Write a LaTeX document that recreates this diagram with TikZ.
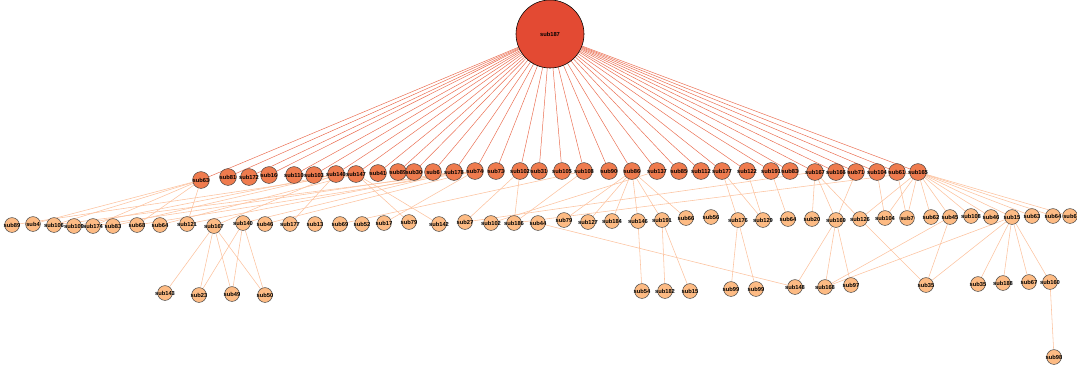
\documentclass[tikz,border=0pt]{standalone}
\usepackage{fontspec}
\setsansfont{Liberation Sans}
\usepackage{xcolor}
\usepackage{tikz}
\usetikzlibrary{backgrounds}

\definecolor{rootred}{HTML}{E34A33}
\definecolor{midorange}{HTML}{EF7B4E}
\definecolor{leaforange}{HTML}{FDBB84}
\definecolor{rootline}{HTML}{EA6E52}
\definecolor{leafline}{HTML}{FCC3A0}

% label that does not widen its circle
\newcommand{\vtxt}[1]{\makebox[0pt]{#1}}

\begin{document}
\begin{tikzpicture}[x=0.025cm, y=-0.025cm,
    font=\sffamily\bfseries\fontsize{4.1}{5}\selectfont,
    vroot/.style={circle, draw=black, line width=0.4pt, fill=rootred, minimum size=1.7cm, inner sep=0pt},
    vmid/.style={circle, draw=black!75, line width=0.35pt, fill=midorange, minimum size=0.42cm, inner sep=0pt},
    vleaf/.style={circle, draw=black!75, line width=0.35pt, fill=leaforange, minimum size=0.37cm, inner sep=0pt},
    rootedge/.style={rootline, line width=0.35pt},
    leafedge/.style={leafline, line width=0.4pt}]
  \useasboundingbox (0,0) rectangle (1077,371);

  \node[vroot] (root) at (550,34) {\vtxt{sub187}};

  % first ring
  \foreach \n/\x/\y/\t in {a1/201/180/sub63, a2/228/177/sub81, a3/249/177/sub172, a4/269/175/sub16,
      a5/294/175/sub110, a6/314/175/sub103, a7/336/174/sub140, a8/356/174/sub147, a9/378/173/sub41,
      a10/398/172/sub89, a11/414/172/sub30, a12/433/172/sub6, a13/454/172/sub178, a14/475/171/sub74,
      a15/496/171/sub73, a16/520/171/sub102, a17/539/171/sub31, a18/562/171/sub105, a19/584/171/sub108,
      a20/609/171/sub90, a21/632/171/sub86, a22/657/171/sub137, a23/679/171/sub85, a24/701/171/sub112,
      a25/722/171/sub177, a26/747/171/sub122, a27/771/171/sub191, a28/790/171/sub83, a29/815/172/sub167,
      a30/836/172/sub166, a31/856/172/sub71, a32/877/172/sub104, a33/897/172/sub61, a34/918/172/sub165}
    \node[vmid] (\n) at (\x,\y) {\vtxt{\t}};

  % second ring
  \foreach \n/\x/\y/\t in {b1/12/225/sub89, b2/33/224/sub4, b3/54/225/sub106, b4/74/226/sub109,
      b5/93/226/sub174, b6/113/226/sub83, b7/137/225/sub68, b8/160/225/sub64, b9/187/224/sub121,
      b10/214/226/sub167, b11/243/223/sub140, b12/265/224/sub46, b13/290/224/sub177, b14/315/224/sub13,
      b15/340/224/sub69, b16/362/224/sub52, b17/384/223/sub17, b18/409/222/sub79, b19/439/224/sub142,
      b20/465/222/sub27, b21/491/223/sub102, b22/514/223/sub186, b23/538/223/sub44, b24/564/220/sub79,
      b25/588/222/sub127, b26/612/221/sub184, b27/638/221/sub146, b28/662/220/sub191, b29/686/218/sub66,
      b30/711/217/sub56, b31/738/220/sub176, b32/763/220/sub129, b33/788/219/sub64, b34/812/219/sub20,
      b35/836/220/sub169, b36/860/219/sub126, b37/885/218/sub104, b38/907/218/sub7, b39/931/217/sub62,
      b40/950/217/sub45, b41/971/216/sub108, b42/991/217/sub46, b43/1012/217/sub15, b44/1032/216/sub63,
      b45/1053/216/sub64, b46/1070/216/sub6}
    \node[vleaf] (\n) at (\x,\y) {\vtxt{\t}};

  % third ring
  \foreach \n/\x/\y/\t in {c1/165/293/sub143, c2/199/295/sub23, c3/232/294/sub49, c4/265/295/sub50,
      c5/642/291/sub54, c6/665/291/sub182, c7/690/291/sub15, c8/731/289/sub99, c9/756/289/sub99,
      c10/795/287/sub148, c11/825/287/sub168, c12/851/285/sub97, c13/926/285/sub35, c14/978/284/sub35,
      c15/1003/283/sub188, c16/1029/282/sub67, c17/1050/282/sub160, d1/1054/357/sub98}
    \node[vleaf] (\n) at (\x,\y) {\vtxt{\t}};

  \begin{scope}[on background layer]
    \foreach \i in {1,...,34}
      \draw[rootedge] (root) -- (a\i);

    \foreach \u/\v in {a1/b2, a1/b3, a1/b5, a1/b7, a1/b9, a7/b4, a7/b6, a7/b10, a7/b13,
        a8/b1, a8/b8, a8/b18, a8/b19, a13/b5, a13/b9, a13/b11, a14/b3, a14/b7, a14/b12, a14/b17,
        a16/b20, a16/b22, a19/b22, a19/b15, a21/b24, a21/b25, a21/b26, a21/b27, a21/b28, a21/b29,
        a22/b21, a25/b31, a25/b32, a26/b32, a27/b33, a29/b34, a29/b35, a29/b36, a29/b20,
        a31/b35, a32/b37, a33/b38, a34/b36, a34/b37, a34/b38, a34/b39, a34/b40, a34/b41,
        a34/b42, a34/b43, a34/b44, a34/b45, a34/b46, a34/b22}
      \draw[leafedge] (\u) -- (\v);

    \foreach \u/\v in {b10/c1, b10/c2, b10/c3, b10/c4, b11/c2, b11/c3, b11/c4,
        b27/c5, b28/c6, b28/c7, b31/c8, b31/c9, b23/c10, b35/c10, b35/c11, b35/c12,
        b40/c11, b40/c13, b36/c13, b43/c11, b43/c13, b43/c14, b43/c15, b43/c16, b43/c17, c17/d1}
      \draw[leafedge] (\u) -- (\v);
  \end{scope}
\end{tikzpicture}
\end{document}
